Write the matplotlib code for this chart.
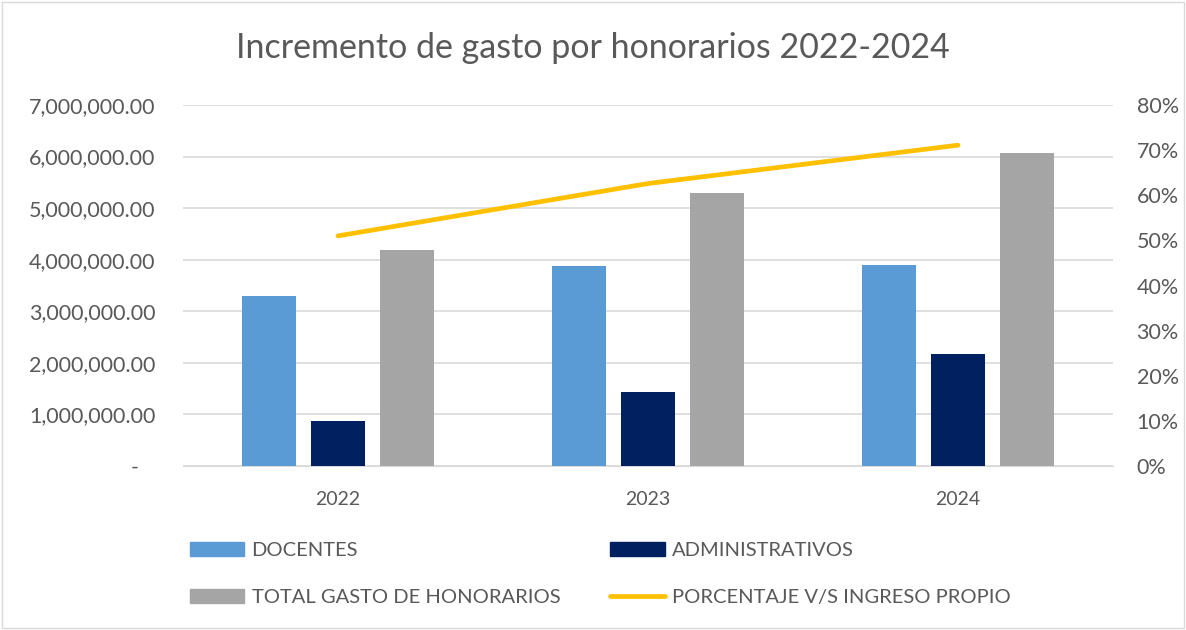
import matplotlib
matplotlib.use("Agg")
import matplotlib.pyplot as plt
import numpy as np
from matplotlib.patches import Patch, Rectangle
from matplotlib.lines import Line2D
from matplotlib.ticker import FuncFormatter, MultipleLocator

plt.rcParams['font.family'] = ['Lato', 'DejaVu Sans']

years = ["2022", "2023", "2024"]
docentes = [3300000, 3876000, 3900000]
administrativos = [880000, 1430000, 2170000]
total_honorarios = [4180000, 5300000, 6070000]
porcentaje = [0.510, 0.626, 0.711]

c_doc = "#5B9BD5"
c_adm = "#002060"
c_tot = "#A5A5A5"
c_pct = "#FFC000"
txt = "#595959"
grid = "#D9D9D9"

fig = plt.figure(figsize=(11.86, 6.30), dpi=100)
ax = fig.add_axes([0.1543, 0.2603, 0.7841, 0.5730])
ax2 = ax.twinx()

x = np.arange(len(years))
w = 0.174
step = 0.223
ax.bar(x - step, docentes, w, color=c_doc, zorder=3)
ax.bar(x, administrativos, w, color=c_adm, zorder=3)
ax.bar(x + step, total_honorarios, w, color=c_tot, zorder=3)

ax.set_xlim(-0.5, 2.5)
ax.set_ylim(0, 7000000)
ax.yaxis.set_major_locator(MultipleLocator(1000000))
ax.yaxis.set_major_formatter(FuncFormatter(lambda v, p: "-   " if v == 0 else f"{v:,.2f}"))
ax.grid(axis='y', color=grid, lw=1.2, zorder=0)
ax.set_axisbelow(True)
ax.set_xticks(x)
ax.set_xticklabels(years)
for s in ["top", "right", "left"]:
    ax.spines[s].set_visible(False)
ax.spines["bottom"].set_color(grid)
ax.tick_params(axis='both', length=0, colors=txt)
ax.tick_params(axis='x', pad=18, labelsize=14)
ax.tick_params(axis='y', pad=20, labelsize=15.5)

ax2.plot(x, porcentaje, color=c_pct, lw=3.4, solid_capstyle='round', zorder=4)
ax2.set_ylim(0, 0.8)
ax2.yaxis.set_major_locator(MultipleLocator(0.1))
ax2.yaxis.set_major_formatter(FuncFormatter(lambda v, p: f"{v*100:.0f}%"))
for s in ["top", "right", "left", "bottom"]:
    ax2.spines[s].set_visible(False)
ax2.tick_params(axis='y', length=0, labelsize=15.5, colors=txt, pad=17)

fig.text(0.5, 0.924, "Incremento de gasto por honorarios 2022-2024", ha='center', va='center',
         fontsize=24.5, color=txt)

handles = [Patch(color=c_doc), Patch(color=c_tot), Patch(color=c_adm),
           Line2D([0], [0], color=c_pct, lw=3.4, solid_capstyle='round')]
labels = ["DOCENTES", "TOTAL GASTO DE HONORARIOS", "ADMINISTRATIVOS", "PORCENTAJE V/S INGRESO PROPIO"]
leg = fig.legend(handles, labels, ncol=2, loc='upper left', bbox_to_anchor=(0.145, 0.168),
                 frameon=False, fontsize=14.5, labelcolor=txt, handlelength=2.7, handleheight=0.7,
                 handletextpad=0.35, columnspacing=2.5, labelspacing=1.45)

fig.patches.append(Rectangle((0.002, 0.003), 0.996, 0.994, transform=fig.transFigure,
                             fill=False, edgecolor=grid, lw=1))

fig.savefig("out.png", dpi=100)
